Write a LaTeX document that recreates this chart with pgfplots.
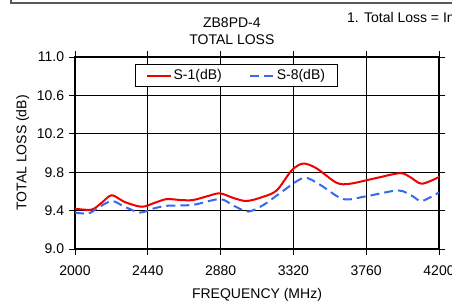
\documentclass[border=0pt]{standalone}
\usepackage{fontspec}
\setmainfont{Liberation Sans}
\usepackage{pgfplots}
\pgfplotsset{compat=1.18}
\definecolor{sred}{RGB}{240,0,0}
\definecolor{sblue}{RGB}{55,105,240}
\begin{document}
\fontsize{14}{17}\selectfont
\begin{tikzpicture}[x=1pt,y=1pt]
\begin{scope}
\clip (0,0) rectangle (452,301);
\draw[line width=2pt, black!65] (11,310) -- (11,298) -- (470,298);
\node[anchor=base west, inner sep=0] at (347,279) {1. Total Loss = Insertion Loss};
\begin{axis}[
  at={(75pt,52pt)}, anchor=south west,
  scale only axis, width=364pt, height=192pt,
  xmin=2000, xmax=4200, ymin=9, ymax=11,
  xtick={2000,2440,2880,3320,3760,4200},
  ytick={9,9.4,9.8,10.2,10.6,11},
  /pgf/number format/assume math mode=true,
  xticklabel style={/pgf/number format/1000 sep={}, yshift=-6pt},
  yticklabel style={/pgf/number format/.cd, fixed, fixed zerofill, precision=1},
  tick align=outside, major tick length=6pt,
  tick style={black, line width=1pt},
  grid=major, grid style={black, line width=1pt},
  axis line style={black, line width=1.2pt},
  xlabel={FREQUENCY (MHz)}, ylabel={TOTAL LOSS (dB)},
  xlabel style={yshift=-3pt},
  ylabel style={yshift=-2pt},
  title={ZB8PD-4\\TOTAL LOSS},
  title style={align=center, at={(rel axis cs:0.431,1)}, anchor=south, yshift=2pt},
  legend columns=2,
  legend style={at={(rel axis cs:0.165,0.964)}, anchor=north west, draw=black, line width=1pt,
    inner xsep=10pt, inner ysep=3pt, font=\fontsize{14}{17}\selectfont,
    /tikz/every even column/.append style={column sep=25pt}},
  legend image code/.code={\draw[#1] (0pt,0pt) -- (24pt,0pt);},
]
\addplot[sred, line width=2pt, smooth] coordinates {
(2000,9.42) (2100,9.41) (2160,9.48) (2222,9.56) (2300,9.49) (2403,9.44)
(2480,9.48) (2554,9.52) (2640,9.51) (2713,9.51) (2800,9.55) (2876,9.58)
(2960,9.53) (3037,9.50) (3130,9.54) (3219,9.61) (3310,9.82) (3380,9.89)
(3460,9.84) (3581,9.69) (3662,9.68) (3823,9.74) (3964,9.79) (4025,9.75)
(4096,9.68) (4200,9.75)};
\addlegendentry{S-1(dB)}
\addplot[sblue, line width=2pt, smooth, dash pattern=on 9pt off 5pt] coordinates {
(2000,9.38) (2081,9.37) (2140,9.43) (2222,9.50) (2300,9.44) (2393,9.38)
(2470,9.42) (2554,9.45) (2713,9.46) (2876,9.52) (2960,9.45) (3047,9.39)
(3140,9.46) (3238,9.58) (3380,9.74) (3480,9.67) (3621,9.52) (3762,9.55)
(3954,9.61) (4040,9.55) (4096,9.50) (4200,9.59)};
\addlegendentry{S-8(dB)}
\end{axis}
\end{scope}
\pgfresetboundingbox
\useasboundingbox (0,0) rectangle (452,301);
\end{tikzpicture}
\end{document}
